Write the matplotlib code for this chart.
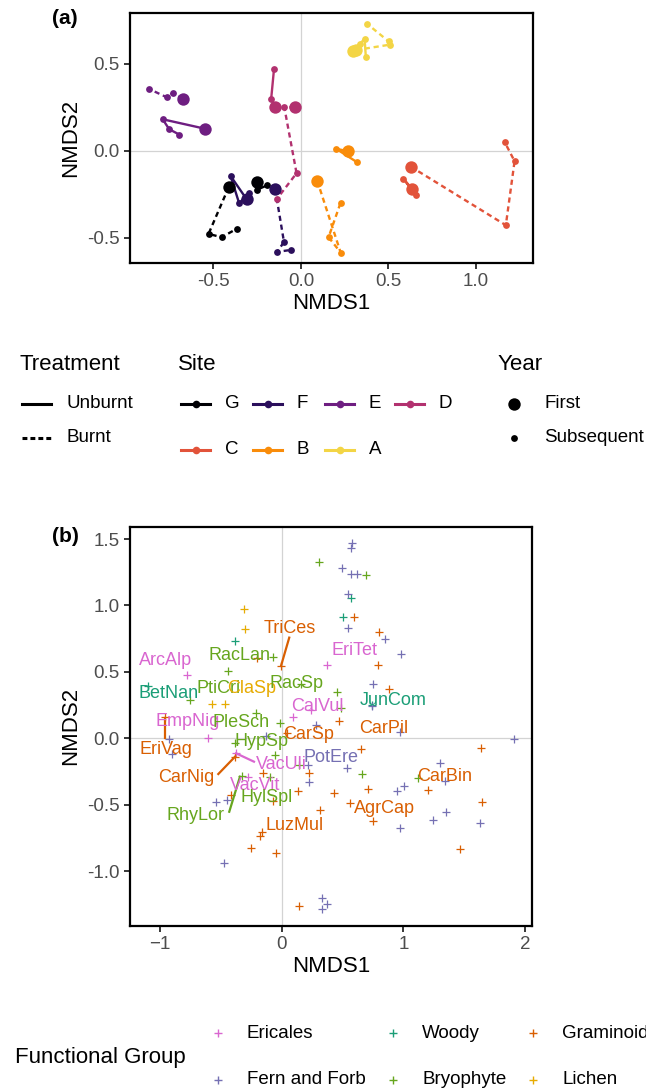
import matplotlib.pyplot as plt
from matplotlib.ticker import FormatStrFormatter

plt.rcParams['font.family'] = ['Liberation Sans', 'DejaVu Sans']

# ---------------- panel (a): site trajectories in NMDS space ----------------
sites = ["G", "F", "E", "D", "C", "B", "A"]
site_colours = ["#000004", "#2B0F5C", "#6E1E81", "#B2316F", "#E2533A", "#F98C0A", "#F3D545"]

# one list per site (order as `sites`); first value of each = first survey year
unburnt_x = [[-0.250, -0.253, -0.192],
             [-0.310, -0.402, -0.353, -0.295],
             [-0.550, -0.790, -0.753, -0.695],
             [-0.147, -0.170, -0.154],
             [0.634, 0.585, 0.657],
             [0.269, 0.200, 0.318],
             [0.295, 0.337, 0.364, 0.371]]
unburnt_y = [[-0.176, -0.224, -0.197],
             [-0.278, -0.144, -0.301, -0.239],
             [0.128, 0.182, 0.125, 0.094],
             [0.251, 0.300, 0.469],
             [-0.217, -0.159, -0.255],
             [-0.002, 0.013, -0.063],
             [0.576, 0.615, 0.645, 0.538]]
burnt_x = [[-0.413, -0.528, -0.453, -0.364],
           [-0.147, -0.097, -0.135, -0.055],
           [-0.676, -0.733, -0.768, -0.867],
           [-0.036, -0.095, -0.025, -0.139],
           [0.627, 1.171, 1.221, 1.164],
           [0.093, 0.227, 0.158, 0.227],
           [0.314, 0.509, 0.501, 0.379]]
burnt_y = [[-0.209, -0.477, -0.496, -0.446],
           [-0.220, -0.523, -0.580, -0.569],
           [0.299, 0.333, 0.309, 0.356],
           [0.251, 0.251, -0.128, -0.278],
           [-0.090, -0.427, -0.059, 0.052],
           [-0.171, -0.584, -0.496, -0.297],
           [0.580, 0.611, 0.630, 0.730]]

# ---------------- panel (b): species scores ----------------
groups = ["Ericales", "Woody", "Graminoid", "Fern and Forb", "Bryophyte", "Lichen"]
group_colours = ["#D966D0", "#1B9E77", "#D95F02", "#7570B3", "#66A61E", "#E6AB02"]

ericales_x = [-0.781, 0.375, 0.238, 0.095, -0.603, -0.375, -0.274]
ericales_y = [0.479, 0.554, 0.213, 0.163, 0.000, -0.113, -0.294]
woody_x = [-1.096, -0.381, 0.501, 0.567, 0.740]
woody_y = [0.394, 0.735, 0.911, 1.056, 0.251]
graminoid_x = [-0.006, 0.594, 0.797, 0.791, 0.879, 0.468, -0.962, -0.384, 0.040, 0.654,
               1.635, 0.224, -0.151, 0.712, 1.200, 0.430, 0.561, 0.753, 1.647, 1.462,
               -0.418, 0.132, 0.318, -0.069, -0.165, -0.176, -0.250, -0.047, 0.141, -0.203]
graminoid_y = [0.544, 0.916, 0.800, 0.554, 0.373, 0.130, 0.163, -0.138, 0.040, -0.078,
               -0.073, -0.264, -0.264, -0.384, -0.389, -0.414, -0.490, -0.620, -0.477, -0.832,
               -0.430, -0.397, -0.538, -0.470, -0.706, -0.739, -0.824, -0.862, -1.261, 0.607]
fern_forb_x = [0.578, 0.572, 0.495, 0.572, 0.616, 0.545, 0.545, 0.851, 0.978, 0.753,
               0.282, 0.972, 1.911, -0.923, -0.904, -0.131, 0.219, 0.224, 0.539, 1.301,
               1.342, 0.947, 1.006, 0.976, 1.244, 1.347, 1.632, -0.544, -0.450, -0.471,
               0.335, 0.376, 0.335, 0.740]
fern_forb_y = [1.468, 1.433, 1.280, 1.237, 1.237, 1.087, 0.831, 0.745, 0.635, 0.409,
               0.102, 0.047, -0.005, -0.008, -0.120, 0.017, -0.201, -0.331, -0.226, -0.184,
               -0.319, -0.399, -0.357, -0.673, -0.618, -0.553, -0.638, -0.480, -0.467, -0.940,
               -1.206, -1.251, -1.286, 0.240]
bryophyte_x = [0.307, 0.693, -0.444, -0.074, -0.753, -0.209, -0.014, 0.156, 0.452, 0.485,
               -0.381, -0.055, 0.662, 1.123, -0.330, -0.096, 0.145]
bryophyte_y = [1.330, 1.227, 0.509, 0.610, 0.288, 0.193, 0.117, 0.410, 0.351, 0.226,
               -0.033, -0.126, -0.269, -0.301, -0.285, -0.294, -0.201]
lichen_x = [-0.310, -0.302, -0.573, -0.463]
lichen_y = [0.976, 0.825, 0.258, 0.258]

species = ["TriCes", "ArcAlp", "RacLan", "EriTet", "BetNan", "PtiCri", "ClaSp", "RacSp",
           "CalVul", "JunCom", "EmpNig", "PleSch", "CarPil", "EriVag", "HypSp", "CarSp",
           "PotEre", "VacUli", "CarNig", "CarBin", "VacVit", "HylSpl", "AgrCap", "RhyLor", "LuzMul"]
species_group = ["Graminoid", "Ericales", "Bryophyte", "Ericales", "Woody", "Bryophyte", "Lichen",
                 "Bryophyte", "Ericales", "Woody", "Ericales", "Bryophyte", "Graminoid", "Graminoid",
                 "Bryophyte", "Graminoid", "Fern and Forb", "Ericales", "Graminoid", "Graminoid",
                 "Ericales", "Bryophyte", "Graminoid", "Bryophyte", "Graminoid"]

# repelled label positions and leader segments (layout)
label_pos = [(0.066, 0.828), (-0.955, 0.584), (-0.348, 0.620), (0.602, 0.660), (-0.932, 0.339),
             (-0.521, 0.376), (-0.247, 0.376), (0.123, 0.409), (0.297, 0.240), (0.917, 0.283),
             (-0.775, 0.125), (-0.333, 0.117), (0.841, 0.070), (-0.953, -0.088), (-0.167, -0.027),
             (0.224, 0.032), (0.406, -0.147), (0.000, -0.194), (-0.785, -0.295), (1.342, -0.284),
             (-0.219, -0.359), (-0.123, -0.447), (0.847, -0.530), (-0.712, -0.580), (0.107, -0.655)]
segments = {"TriCes": (0.062, 0.758, -0.006, 0.544),
            "EriVag": (-0.957, 0.150, -0.957, 0.000),
            "CarNig": (-0.521, -0.269, -0.384, -0.139),
            "VacUli": (-0.375, -0.113, -0.228, -0.176),
            "RhyLor": (-0.431, -0.553, -0.343, -0.289)}

fig = plt.figure(figsize=(6.46, 10.92), dpi=100)

tick_kw = dict(direction='out', length=4, width=1.1, color='black',
               labelcolor='#4D4D4D', labelsize=13.5)


def style_axes(ax):
    for sp in ax.spines.values():
        sp.set_linewidth(1.6)
        sp.set_color('black')
    ax.axhline(0, color='#D3D3D3', lw=0.9, zorder=0)
    ax.axvline(0, color='#D3D3D3', lw=0.9, zorder=0)
    ax.tick_params(**tick_kw)
    ax.set_xlabel('NMDS1', fontsize=16, labelpad=2)
    ax.set_ylabel('NMDS2', fontsize=16, labelpad=4)


# ---- (a)
ax1 = fig.add_axes([0.2012, 0.7592, 0.6238, 0.2289])
for i, s in enumerate(sites):
    c = site_colours[i]
    for xs, ys, ls in ((unburnt_x[i], unburnt_y[i], '-'), (burnt_x[i], burnt_y[i], (0, (2.2, 1.6)))):
        ax1.plot(xs, ys, color=c, lw=1.7, ls=ls, zorder=2)
        ax1.scatter(xs[1:], ys[1:], s=24, color=c, zorder=3, linewidths=0)
        ax1.scatter(xs[:1], ys[:1], s=80, color=c, zorder=3, linewidths=0)
ax1.set_xlim(-0.977, 1.326)
ax1.set_ylim(-0.644, 0.793)
ax1.set_xticks([-0.5, 0.0, 0.5, 1.0])
ax1.set_yticks([-0.5, 0.0, 0.5])
ax1.xaxis.set_major_formatter(FormatStrFormatter('%.1f'))
ax1.yaxis.set_major_formatter(FormatStrFormatter('%.1f'))
style_axes(ax1)

# ---- (b)
ax2 = fig.add_axes([0.2012, 0.1523, 0.6223, 0.3651])
group_x = [ericales_x, woody_x, graminoid_x, fern_forb_x, bryophyte_x, lichen_x]
group_y = [ericales_y, woody_y, graminoid_y, fern_forb_y, bryophyte_y, lichen_y]
for gx, gy, c in zip(group_x, group_y, group_colours):
    ax2.scatter(gx, gy, marker='+', s=28, color=c, linewidths=0.9, zorder=2)
colour_of = dict(zip(groups, group_colours))
for name, g, (lx, ly) in zip(species, species_group, label_pos):
    c = colour_of[g]
    if name in segments:
        x0, y0, x1, y1 = segments[name]
        ax2.plot([x0, x1], [y0, y1], color=c, lw=1.6, zorder=3)
    ax2.text(lx, ly, name, color=c, fontsize=13, ha='center', va='center', zorder=4)
ax2.set_xlim(-1.247, 2.057)
ax2.set_ylim(-1.411, 1.591)
ax2.set_xticks([-1, 0, 1, 2])
ax2.set_yticks([-1.0, -0.5, 0.0, 0.5, 1.0, 1.5])
ax2.yaxis.set_major_formatter(FormatStrFormatter('%.1f'))
style_axes(ax2)

fig.text(52 / 646, 1 - 18 / 1092, '(a)', fontsize=15, fontweight='bold', va='center')
fig.text(52 / 646, 1 - 537 / 1092, '(b)', fontsize=15, fontweight='bold', va='center')

# ---- legends, drawn in pixel space
lg = fig.add_axes([0, 0, 1, 1])
lg.set_xlim(0, 646)
lg.set_ylim(1092, 0)
lg.axis('off')

lg.text(20, 365, 'Treatment', fontsize=16, va='center')
for y, lab, ls in ((404, 'Unburnt', '-'), (438, 'Burnt', (0, (1.6, 1.0)))):
    lg.plot([22, 51], [y, y], color='black', lw=2.2, ls=ls)
    lg.text(67, y, lab, fontsize=13.5, va='center')

lg.text(178, 365, 'Site', fontsize=16, va='center')
key_x = [181, 253, 325, 395]
for i, s in enumerate(sites):
    row, col = divmod(i, 4)
    x0 = key_x[col]
    y = 404 + row * 46
    lg.plot([x0, x0 + 29], [y, y], color=site_colours[i], lw=2.2)
    lg.scatter([x0 + 14.5], [y], s=30, color=site_colours[i], linewidths=0)
    lg.text(x0 + 44, y, s, fontsize=13.5, va='center')

lg.text(498, 365, 'Year', fontsize=16, va='center')
lg.scatter([514], [404], s=80, color='black', linewidths=0)
lg.scatter([514], [438], s=24, color='black', linewidths=0)
lg.text(544, 404, 'First', fontsize=13.5, va='center')
lg.text(544, 438, 'Subsequent', fontsize=13.5, va='center')

lg.text(15, 1057, 'Functional Group', fontsize=16, va='center')
fg_x = [218, 393, 533]
for i, g in enumerate(groups):
    row, col = divmod(i, 3)
    y = 1033 + row * 47
    lg.scatter([fg_x[col]], [y], marker='+', s=40, color=colour_of[g], linewidths=1.0)
    lg.text(fg_x[col] + 29, y, g, fontsize=13.5, va='center')

fig.savefig('out.png', dpi=100)
